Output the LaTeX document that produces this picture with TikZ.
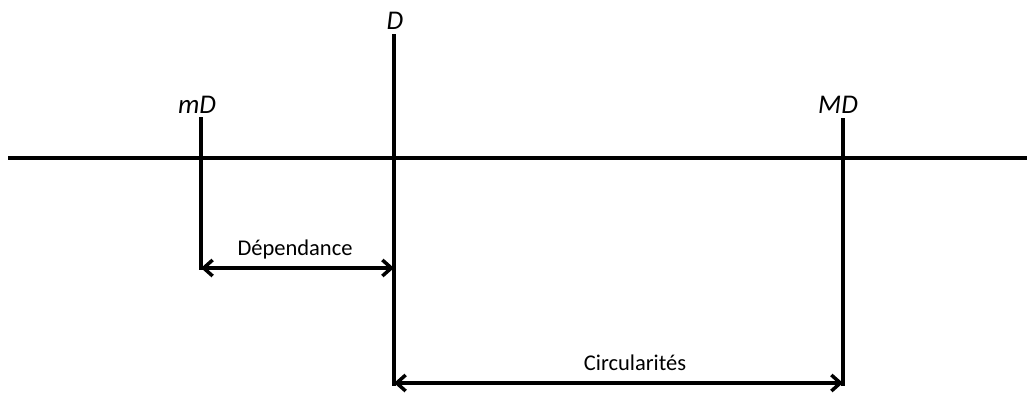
\documentclass[tikz,border=0pt]{standalone}
\usepackage{fontspec}
\setmainfont{Carlito}
\usetikzlibrary{arrows.meta}
\tikzset{
  ln/.style={line width=3.5pt},
  dim/.style={line width=3.5pt, {Straight Barb[length=9pt,width=16pt,line width=3.5pt]}-{Straight Barb[length=9pt,width=16pt,line width=3.5pt]}},
  big/.style={font=\fontsize{27}{32}\selectfont\itshape, inner sep=0pt, anchor=base},
  small/.style={font=\fontsize{22.5}{27}\selectfont, inner sep=0pt, anchor=base}
}
\begin{document}
\begin{tikzpicture}[x=1pt,y=-1pt]
\useasboundingbox (0,0) rectangle (1027,394);
% axis
\coordinate (l) at (8,158);
\coordinate (r) at (1027,158);
\draw[ln] (l) -- (r);
% verticals
\coordinate (mt) at (201,117);
\coordinate (mb) at (201,270);
\coordinate (dt) at (394,34);
\coordinate (db) at (394,386);
\coordinate (Mt) at (843,118);
\coordinate (Mb) at (843,386);
\draw[ln] (mt) -- (mb);
\draw[ln] (dt) -- (db);
\draw[ln] (Mt) -- (Mb);
% dimension arrows
\coordinate (a1) at (201,268);
\coordinate (a2) at (394,268);
\coordinate (b1) at (394,383);
\coordinate (b2) at (843,383);
\draw[dim] (a1) -- (a2);
\draw[dim] (b1) -- (b2);
% labels
\node[big] (D) at (395,29) {D};
\node[big] (mD) at (197,113) {mD};
\node[big] (MD) at (838,113) {MD};
\node[small] (dep) at (295,255) {Dépendance};
\node[small] (circ) at (635,370) {Circularités};
\end{tikzpicture}
\end{document}
